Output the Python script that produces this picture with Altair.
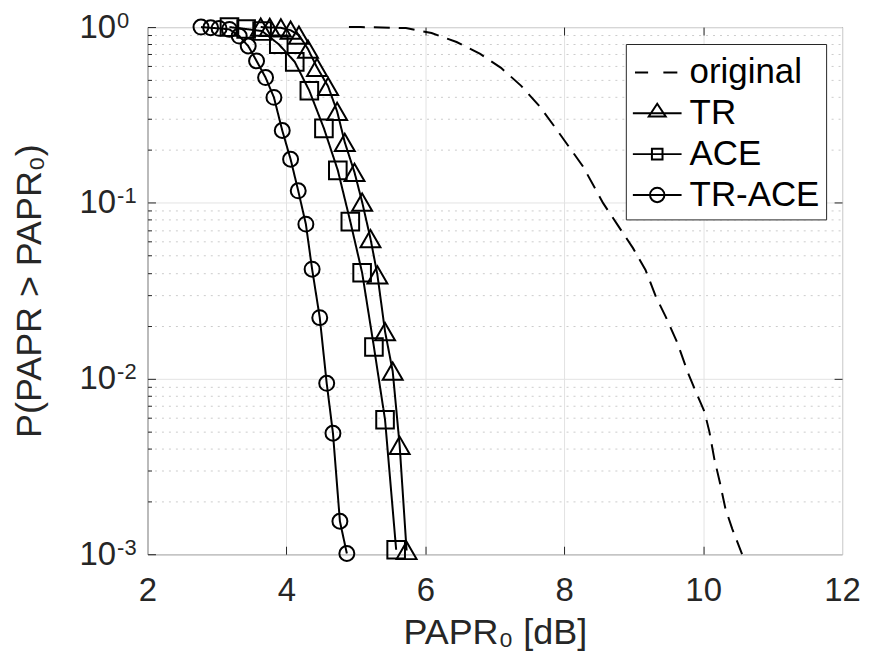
import altair as alt
import pandas as pd

# ---------------- data ----------------
series_names = ["original", "TR", "ACE", "TR-ACE"]

orig_x = [4.90, 5.07, 5.72, 6.09, 6.45, 6.79, 7.09, 7.38, 7.65, 7.87, 8.27, 8.56,
          8.77, 8.99, 9.17, 9.32, 9.46, 9.63, 9.78, 9.89, 10.02, 10.09, 10.16,
          10.24, 10.32, 10.42, 10.56]
orig_y = [1.0, 1.0, 0.987, 0.925, 0.822, 0.703, 0.586, 0.463, 0.352, 0.268, 0.161,
          0.0995, 0.0746, 0.0552, 0.0415, 0.0292, 0.0225, 0.0159, 0.0108, 0.0085,
          0.00645, 0.00497, 0.0035, 0.00257, 0.00182, 0.00139, 0.001]

tr_x = [3.63, 3.76, 3.92, 4.06, 4.18, 4.31, 4.44, 4.60, 4.73, 4.84, 4.98, 5.09,
        5.21, 5.31, 5.42, 5.53, 5.63, 5.73]
tr_y = [1.0, 0.995, 0.99, 0.96, 0.90, 0.75, 0.59, 0.46, 0.331, 0.221, 0.149,
        0.101, 0.0626, 0.0389, 0.0185, 0.0110, 0.00417, 0.00105]

ace_x = [3.18, 3.42, 3.65, 3.89, 4.12, 4.33, 4.54, 4.74, 4.92, 5.09, 5.26, 5.42, 5.58]
ace_y = [1.0, 0.975, 0.949, 0.798, 0.634, 0.434, 0.265, 0.153, 0.0781, 0.0400,
         0.0151, 0.00582, 0.00106]

tra_x = [2.77, 2.91, 3.03, 3.18, 3.32, 3.45, 3.57, 3.70, 3.82, 3.94, 4.06, 4.17,
         4.28, 4.37, 4.48, 4.58, 4.67, 4.77, 4.87]
tra_y = [1.0, 0.991, 0.983, 0.970, 0.889, 0.780, 0.642, 0.516, 0.398, 0.258, 0.177,
         0.117, 0.0756, 0.0419, 0.0222, 0.00939, 0.00488, 0.00154, 0.00101]

x_ticks = [2, 4, 6, 8, 10, 12]
x_inner = [4, 6, 8, 10]
y_major = [0.001, 0.01, 0.1, 1]
y_inner = [0.01, 0.1]
y_minor = [m * d for d in (0.001, 0.01, 0.1) for m in range(2, 10)]

rows = []
for name, xs, ys in [("original", orig_x, orig_y), ("TR", tr_x, tr_y),
                     ("ACE", ace_x, ace_y), ("TR-ACE", tra_x, tra_y)]:
    for a, b in zip(xs, ys):
        rows.append({"series": name, "papr": a, "p": b})
df = pd.DataFrame(rows)

# ---------------- styling ----------------
FONT = "Liberation Sans"
AX = "#262626"
W, H = 697, 529

x_scale = alt.Scale(domain=[2, 12], nice=False, zero=False)
y_scale = alt.Scale(type="log", domain=[0.001, 1], nice=False)

base = alt.Chart(df)

lines = base.mark_line(strokeWidth=2, color="black").encode(
    x=alt.X("papr:Q", scale=x_scale,
            axis=alt.Axis(orient="bottom", values=x_ticks, grid=True, gridColor="#e3e3e3",
                          ticks=False, domain=False, labelPadding=20, labelFontSize=33,
                          labelFont=FONT, labelColor=AX, labelOverlap=False, labelFlush=False,
                          title="PAPR₀ [dB]", titleFont=FONT, titleFontSize=36,
                          titleFontWeight="normal", titleColor=AX, titleX=348.5, titleY=90,
                          titleBaseline="alphabetic", titleAlign="center")),
    y=alt.Y("p:Q", scale=y_scale,
            axis=alt.Axis(orient="left", values=y_major, labelExpr="'10'", grid=True,
                          gridColor="#e3e3e3", ticks=False, domain=False, labelPadding=32,
                          labelFontSize=33, labelFont=FONT, labelColor=AX, labelOverlap=False,
                          labelFlush=False,
                          title="P(PAPR > PAPR₀)", titleFont=FONT, titleFontSize=36,
                          titleFontWeight="normal", titleColor=AX, titleX=-107, titleY=264.5,
                          titleAngle=270, titleBaseline="alphabetic", titleAlign="center")),
    strokeDash=alt.StrokeDash("series:N",
                              scale=alt.Scale(domain=series_names,
                                              range=[[16, 9], [1, 0], [1, 0], [1, 0]]),
                              legend=None),
)

sup_expr = ("datum.value > 0.5 ? '0' : datum.value > 0.05 ? '-1' : "
            "datum.value > 0.005 ? '-2' : '-3'")

points = base.transform_filter("datum.series != 'original'").mark_point(
    filled=False, strokeWidth=2, color="black", opacity=1
).encode(
    x=alt.X("papr:Q", scale=x_scale,
            axis=alt.Axis(orient="top", values=x_inner, offset=-8, tickSize=8,
                          tickColor=AX, labels=False, domain=False, grid=False, title=None)),
    y=alt.Y("p:Q", scale=y_scale,
            axis=alt.Axis(orient="left", values=y_major, labelExpr=sup_expr, grid=False,
                          domain=False, ticks=True, tickSize=8, offset=-8, tickColor=AX,
                          labelAlign="left", labelPadding=31, labelOffset=-7,
                          labelFontSize=22, labelFont=FONT, labelColor=AX,
                          labelOverlap=False, labelFlush=False, title=None)),
    shape=alt.Shape("series:N",
                    scale=alt.Scale(domain=["TR", "ACE", "TR-ACE"],
                                    range=["triangle-up", "square", "circle"]),
                    legend=None),
    size=alt.Size("series:N",
                  scale=alt.Scale(domain=["TR", "ACE", "TR-ACE"], range=[400, 225, 254]),
                  legend=None),
)

# right-hand inner ticks (MATLAB box), drawn by an invisible layer's axis
right_ticks = base.mark_point(opacity=0).encode(
    x=alt.X("papr:Q", scale=x_scale, axis=None),
    y=alt.Y("p:Q", scale=y_scale,
            axis=alt.Axis(orient="right", values=y_inner, offset=-8, tickSize=8,
                          tickColor=AX, labels=False, domain=False, grid=False, title=None)),
)

legend_paths = [
    "M-1.05,0H-0.43M0.29,0H0.95",
    "M-1.15,0H1.15M-0.4,0.15L0,-0.45L0.4,0.15Z",
    "M-1.15,0H1.15M-0.25,-0.25H0.25V0.25H-0.25Z",
    "M-1.15,0H1.15M-0.34,0A0.34,0.34,0,1,0,0.34,0A0.34,0.34,0,1,0,-0.34,0Z",
]

legend_layer = base.mark_point(opacity=0, filled=False).encode(
    x=alt.X("papr:Q", scale=x_scale,
            axis=alt.Axis(orient="bottom", values=x_inner, offset=-8, tickSize=8,
                          tickColor=AX, labels=False, domain=False, grid=False, title=None)),
    y=alt.Y("p:Q", scale=y_scale,
            axis=alt.Axis(orient="left", values=y_minor, grid=True, gridDash=[2, 5],
                          gridColor="#cccccc", offset=-4, tickSize=4, tickColor=AX,
                          labels=False, domain=False, title=None)),
    shape=alt.Shape("series:N",
                    scale=alt.Scale(domain=series_names, range=legend_paths),
                    legend=alt.Legend(title=None, orient="none", legendX=480, legendY=17,
                                      symbolSize=1806, symbolStrokeWidth=2,
                                      symbolStrokeColor="black",
                                      symbolFillColor="transparent", symbolOpacity=1,
                                      labelFontSize=35, labelFont=FONT, labelColor="black",
                                      labelOffset=10, labelLimit=300, padding=6,
                                      symbolOffset=3, rowPadding=0,
                                      strokeColor=AX, fillColor="white")),
)

chart = alt.layer(lines, points, right_ticks, legend_layer).resolve_scale(
    shape="independent"
).resolve_axis(
    x="independent", y="independent"
).resolve_legend(
    shape="independent"
).properties(
    width=W, height=H,
    autosize=alt.AutoSizeParams(type="none"),
    padding={"left": 140, "top": 18, "right": 20, "bottom": 100},
    background="white",
).configure_view(stroke=AX, strokeWidth=1)

chart.save("out.html", embed_options={"renderer": "svg", "actions": False})
